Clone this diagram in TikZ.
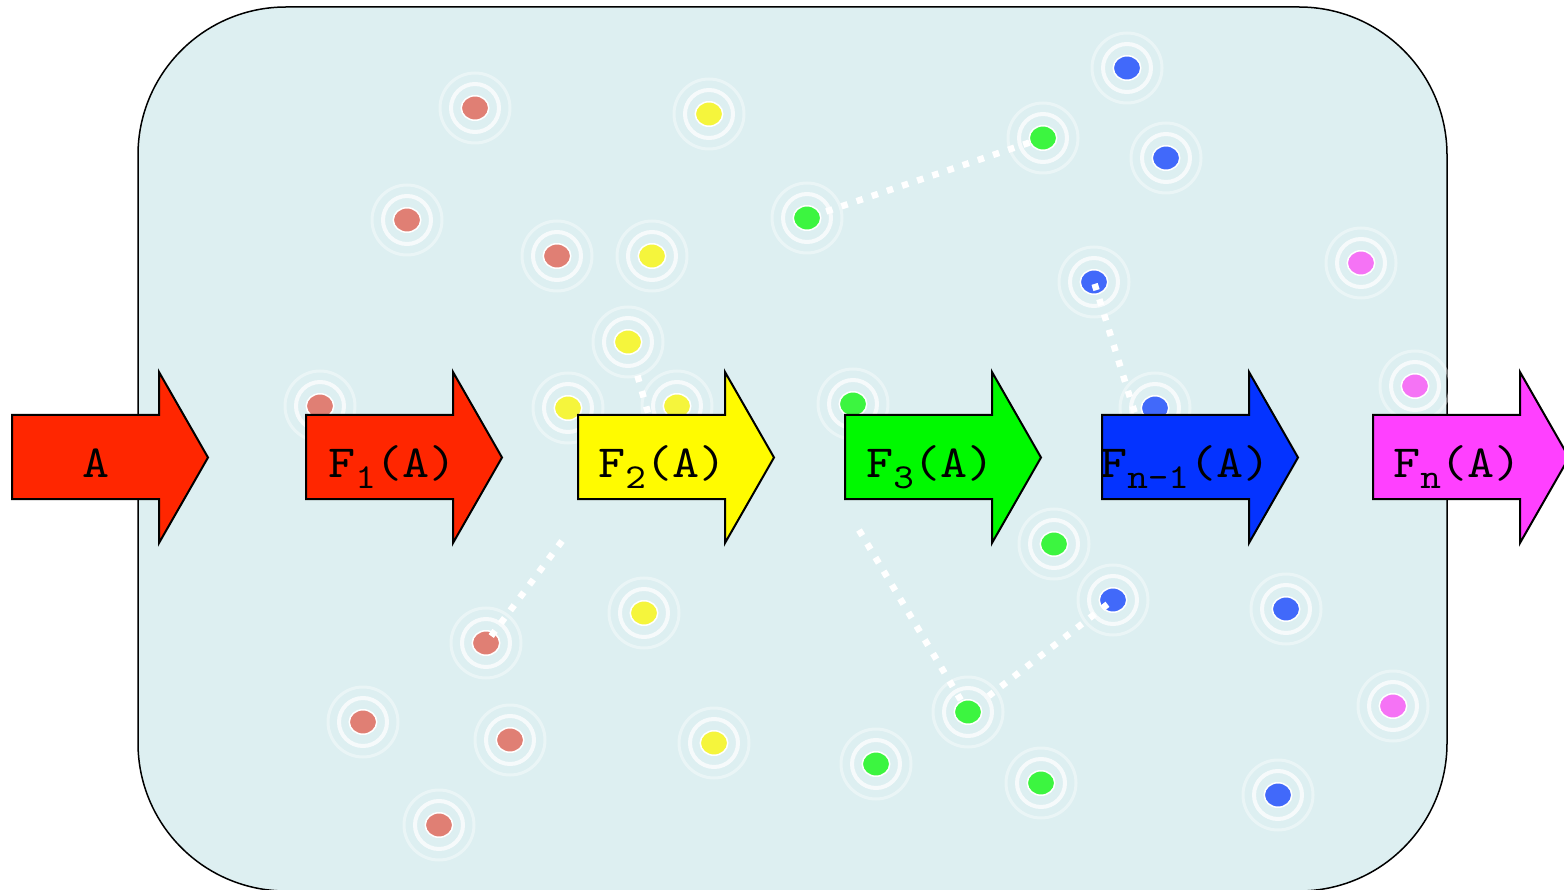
\documentclass[tikz,border=0pt]{standalone}
\usepackage{fontspec}
\usetikzlibrary{shapes.geometric}
\newfontfamily\arrowfont{lmmono10-regular.otf}[FakeStretch=1.12]

\definecolor{panel}{RGB}{221,239,241}
\definecolor{arrRed}{RGB}{255,38,0}
\definecolor{arrYellow}{RGB}{255,251,0}
\definecolor{arrGreen}{RGB}{0,249,0}
\definecolor{arrBlue}{RGB}{4,51,255}
\definecolor{arrMagenta}{RGB}{255,64,255}
\definecolor{dotRed}{RGB}{224,127,116}
\definecolor{dotYellow}{RGB}{245,245,60}
\definecolor{dotGreen}{RGB}{60,245,64}
\definecolor{dotBlue}{RGB}{65,105,250}
\definecolor{dotPink}{RGB}{245,115,245}

\tikzset{
  spot/.style={ellipse, draw=white, line width=1.5pt, minimum width=27.5pt,
    minimum height=24.5pt, inner sep=0pt},
  ringin/.style={draw=white, draw opacity=0.75, line width=4pt},
  ringout/.style={draw=white, draw opacity=0.4, line width=3pt},
  dotline/.style={draw=white, line width=6.5pt, dash pattern=on 6.5pt off 9.5pt},
  flow/.style={draw=black, line width=2pt, line join=miter},
  flowtext/.style={anchor=base west, inner sep=0pt,
    font=\arrowfont\fontsize{46}{46}\selectfont},
}

% a particle: two halo rings and the coloured dot (name, x, y, colour)
\newcommand\spot[4]{%
  \draw[ringout] (#2,#3) circle[radius=35];
  \draw[ringin] (#2,#3) circle[radius=24];
  \node[spot, fill=#4] (#1) at (#2,#3) {};}

% a block arrow with its label (name, left x, colour, label x, label)
\newcommand\flowarrow[5]{%
  \draw[flow, fill=#3] (#2,415) -- ++(147,0) -- ++(0,-43) -- ++(49,85.5)
    -- ++(-49,85.5) -- ++(0,-44) -- ++(-147,0) -- cycle;
  \node[flowtext] (#1) at (#4,477) {#5};}

\newcommand\lowered[1]{\raisebox{-11pt}{\fontsize{35}{35}\selectfont #1}}

\begin{document}
\begin{tikzpicture}[x=1pt, y=-1pt]
\useasboundingbox (0,0) rectangle (1564,890);

% container
\draw[fill=panel, line width=1.5pt, rounded corners=148pt] (138,7) rectangle (1447,891);

% red particles
\spot{r1}{475}{108}{dotRed}
\spot{r2}{407}{220}{dotRed}
\spot{r3}{557}{256}{dotRed}
\spot{r4}{320}{406}{dotRed}
\spot{r5}{486}{643}{dotRed}
\spot{r6}{363}{722}{dotRed}
\spot{r7}{510}{740}{dotRed}
\spot{r8}{439}{825}{dotRed}

% yellow particles
\spot{y1}{709}{114}{dotYellow}
\spot{y2}{652}{256}{dotYellow}
\spot{y3}{628}{342}{dotYellow}
\spot{y4}{568}{408}{dotYellow}
\spot{y5}{677}{406}{dotYellow}
\spot{y6}{644}{613}{dotYellow}
\spot{y7}{714}{743}{dotYellow}

% green particles
\spot{g1}{1043}{138}{dotGreen}
\spot{g2}{807}{218}{dotGreen}
\spot{g3}{853}{404}{dotGreen}
\spot{g4}{1054}{544}{dotGreen}
\spot{g5}{968}{712}{dotGreen}
\spot{g6}{876}{764}{dotGreen}
\spot{g7}{1041}{783}{dotGreen}

% blue particles
\spot{b1}{1127}{68}{dotBlue}
\spot{b2}{1166}{158}{dotBlue}
\spot{b3}{1094}{282}{dotBlue}
\spot{b4}{1155}{408}{dotBlue}
\spot{b5}{1113}{600}{dotBlue}
\spot{b6}{1286}{609}{dotBlue}
\spot{b7}{1278}{795}{dotBlue}

% pink particles
\spot{p1}{1361}{263}{dotPink}
\spot{p2}{1415}{386}{dotPink}
\spot{p3}{1393}{706}{dotPink}

% loose ends of the links, tucked under the arrows
\coordinate (yEnd) at (650,420);
\coordinate (bEnd) at (1137,420);
\coordinate (rStart) at (562,541);
\coordinate (gStart) at (859,530);

% links
\draw[dotline] (g1) -- (g2);
\draw[dotline, shorten <=2pt] (b3.center) -- (bEnd);
\draw[dotline, shorten <=35pt] (y3.center) -- (yEnd);
\draw[dotline, shorten >=4pt] (rStart) -- (r5.center);
\draw[dotline, shorten >=14pt] (gStart) -- (g5.center);
\draw[dotline, shorten <=7pt, shorten >=26pt] (b5.center) -- (g5.center);

% transformation arrows
\flowarrow{a0}{12}{arrRed}{82}{A}
\flowarrow{a1}{306}{arrRed}{328}{F\lowered{1}(A)}
\flowarrow{a2}{578}{arrYellow}{598}{F\lowered{2}(A)}
\flowarrow{a3}{845}{arrGreen}{866}{F\lowered{3}(A)}
\flowarrow{a4}{1102}{arrBlue}{1100}{F\lowered{n-1}(A)}
\flowarrow{a5}{1373}{arrMagenta}{1393}{F\lowered{n}(A)}
\end{tikzpicture}
\end{document}
